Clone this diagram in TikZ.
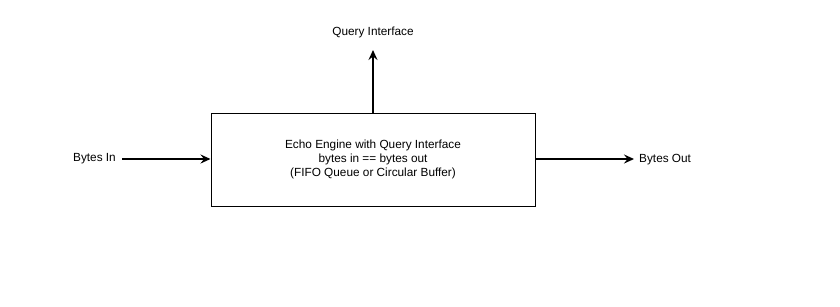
\documentclass[tikz,border=0pt]{standalone}
\usepackage{fontspec}
\setmainfont{Liberation Sans}
\usetikzlibrary{arrows.meta}
\begin{document}
\begin{tikzpicture}[x=1pt,y=-1pt,
  every node/.style={font=\fontsize{11.8}{14}\selectfont, inner sep=0pt},
  conn/.style={line width=2pt, -{Stealth[length=10pt,width=9pt,inset=3.5pt]}},
  enginebox/.style={draw, line width=1pt, minimum width=324pt, minimum height=93pt, align=center}]
\useasboundingbox (0,0) rectangle (840,306);
\node[enginebox] (eng) at (373,159.5) {Echo Engine with Query Interface\\bytes in == bytes out\\(FIFO Queue or Circular Buffer)};
\node[anchor=east] (bin) at (116,159) {Bytes In};
\node[anchor=west] (bout) at (639,160) {Bytes Out};
\node (qi) at (373,32) {Query Interface};
\coordinate (inend) at (122,159);
\coordinate (outend) at (634,159);
\coordinate (qend) at (373,50);
\draw[conn] (inend) -- (eng.west |- inend);
\draw[conn] (eng.east |- outend) -- (outend);
\draw[conn] (eng.north) -- (qend);
\end{tikzpicture}
\end{document}
